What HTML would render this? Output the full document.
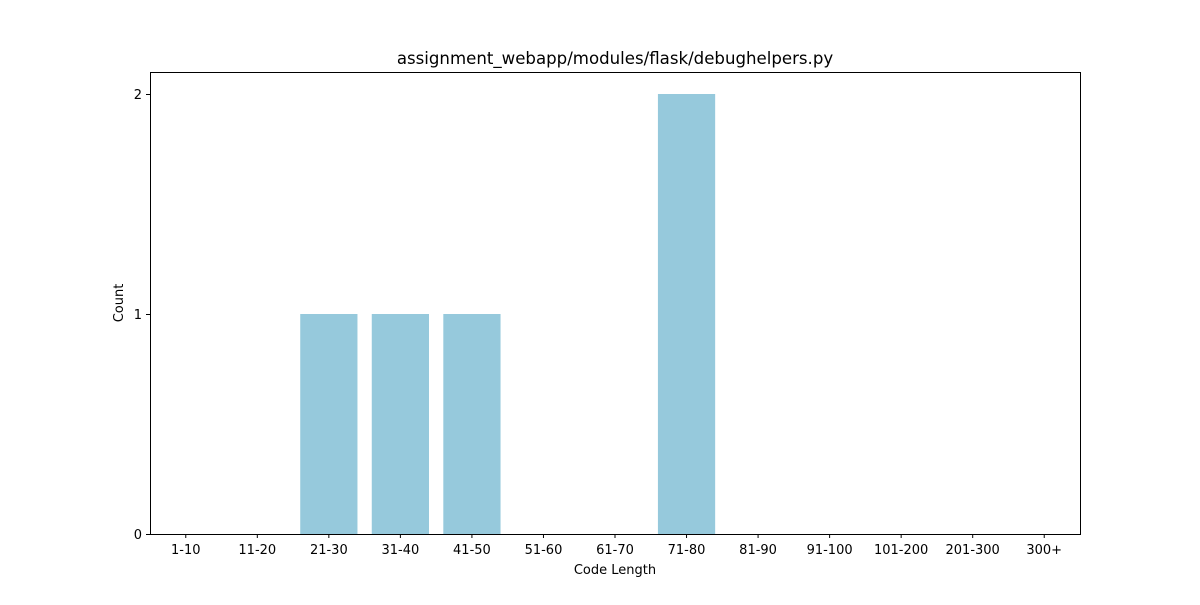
<!DOCTYPE html>
<html><head><meta charset="utf-8"><style>
body{margin:0;background:#fff;}
svg text{font-family:"DejaVu Sans","Liberation Sans",sans-serif;fill:#000;}
</style></head><body>
<svg id="chart" width="1200" height="600" xmlns="http://www.w3.org/2000/svg">
<rect width="1200" height="600" fill="#fff"/>
<text x="615" y="64" font-size="16.6" text-anchor="middle">assignment_webapp/modules/flask/debughelpers.py</text>
<g id="bars"></g>
<g id="axes"></g>
<text x="615" y="574" font-size="13" text-anchor="middle">Code Length</text>
<text transform="translate(123,303) rotate(-90)" font-size="13" text-anchor="middle">Count</text>
</svg>
<script>
const categories = ["1-10","11-20","21-30","31-40","41-50","51-60","61-70","71-80","81-90","91-100","101-200","201-300","300+"];
const counts = [0,0,1,1,1,0,0,2,0,0,0,0,0];
const yTicks = [0,1,2];
const L=150,R=1080,T=72,B=534, yMax=2.1;
const xs = i => L + (i+0.5)*(R-L)/categories.length;
const ys = v => B - v/yMax*(B-T);
const ns="http://www.w3.org/2000/svg";
const bars=document.getElementById('bars'), axes=document.getElementById('axes');
function mk(tag,attrs,parent){const e=document.createElementNS(ns,tag);for(const k in attrs)e.setAttribute(k,attrs[k]);parent.appendChild(e);return e;}
const bw=0.8*(R-L)/categories.length;
counts.forEach((v,i)=>{
  const r=mk('rect',{x:xs(i)-bw/2,y:ys(v),width:bw,height:B-ys(v),fill:'#96c9dc'},bars);
  
  
});
const frame=mk('rect',{x:L+0.5,y:T+0.5,width:R-L,height:B-T,fill:'none',stroke:'#000','stroke-width':1},axes);


categories.forEach((c,i)=>{
  mk('line',{x1:xs(i),x2:xs(i),y1:B,y2:B+4,stroke:'#000'},axes);
  const t=mk('text',{x:xs(i),y:B+20,'font-size':13,'text-anchor':'middle'},axes);
  t.textContent=c;
  
  
});
yTicks.forEach(v=>{
  mk('line',{x1:L-4,x2:L,y1:ys(v)+0.5,y2:ys(v)+0.5,stroke:'#000'},axes);
  const t=mk('text',{x:L-8,y:ys(v)+5,'font-size':13,'text-anchor':'end'},axes);
  t.textContent=v;
  
  
});
</script>
</body></html>
